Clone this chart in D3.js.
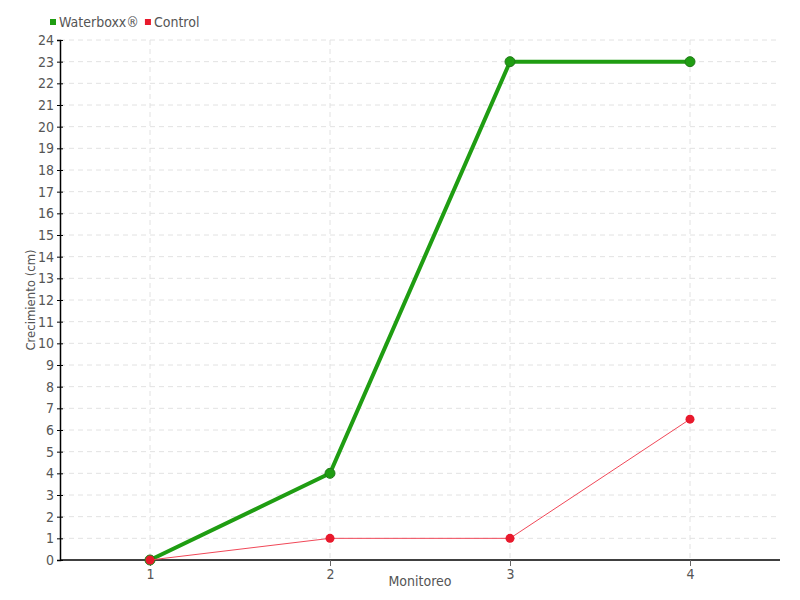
<!DOCTYPE html>
<html>
<head>
<meta charset="utf-8">
<script src="https://cdn.jsdelivr.net/npm/d3@7"></script>
<style>
  body { margin: 0; background: #fff; }
  text { font-family: "DejaVu Sans Condensed", "DejaVu Sans", sans-serif; fill: #555; }
</style>
</head>
<body>
<script>
var width = 800;
var height = 600;
var margin = { top: 40, right: 20, bottom: 40, left: 60 };

var categories = ['1', '2', '3', '4'];
var waterboxx = [0, 4, 23, 23];
var control = [0, 1, 1, 6.5];
var yTicks = d3.range(0, 25);
var seriesNames = ['Waterboxx®', 'Control'];
var seriesColors = ['#1f9d12', '#e8192c'];

var svg = d3.select('body').append('svg')
  .attr('width', width)
  .attr('height', height);

var x = d3.scalePoint()
  .domain(categories)
  .range([margin.left, width - margin.right])
  .padding(0.5);

var y = d3.scaleLinear()
  .domain([0, 24])
  .range([height - margin.bottom, margin.top]);

// grid
svg.append('g').selectAll('line.h')
  .data(yTicks.slice(1))
  .enter().append('line')
  .attr('x1', margin.left)
  .attr('x2', width - margin.right)
  .attr('y1', function (d) { return y(d); })
  .attr('y2', function (d) { return y(d); })
  .attr('stroke', '#e2e2e2')
  .attr('stroke-dasharray', '5,4');

svg.append('g').selectAll('line.v')
  .data(categories)
  .enter().append('line')
  .attr('x1', function (d) { return x(d); })
  .attr('x2', function (d) { return x(d); })
  .attr('y1', margin.top)
  .attr('y2', height - margin.bottom)
  .attr('stroke', '#e2e2e2')
  .attr('stroke-dasharray', '5,4');

// axes
var yAxis = svg.append('g')
  .attr('transform', 'translate(' + margin.left + ',0)')
  .call(d3.axisLeft(y).tickValues(yTicks).tickSize(3).tickPadding(3).tickFormat(d3.format('d')));
yAxis.select('.domain').attr('stroke', '#000').attr('stroke-width', 1.5);
yAxis.selectAll('.tick line').attr('stroke', '#000').attr('x2', 3).attr('x1', -3);
yAxis.selectAll('text').style('font-size', '14px');

var xAxis = svg.append('g')
  .attr('transform', 'translate(0,' + (height - margin.bottom) + ')')
  .call(d3.axisBottom(x).tickSize(6).tickPadding(3));
xAxis.select('.domain').attr('d', 'M' + margin.left + ',0H' + (width - margin.right)).attr('stroke', '#000').attr('stroke-width', 1.5);
xAxis.selectAll('.tick line').attr('stroke', '#666');
xAxis.selectAll('text').style('font-size', '14px');

svg.append('text')
  .attr('x', (margin.left + width - margin.right) / 2)
  .attr('y', 586)
  .attr('text-anchor', 'middle')
  .style('font-size', '14px')
  .text('Monitoreo');

svg.append('text')
  .attr('transform', 'translate(35,' + ((margin.top + height - margin.bottom) / 2) + ') rotate(-90)')
  .attr('text-anchor', 'middle')
  .style('font-size', '13px')
  .text('Crecimiento (cm)');

var line = d3.line()
  .x(function (d, i) { return x(categories[i]); })
  .y(function (d) { return y(d); });

// green series
svg.append('path')
  .datum(waterboxx)
  .attr('fill', 'none')
  .attr('stroke', seriesColors[0])
  .attr('stroke-width', 4)
  .attr('d', line);

svg.append('g').selectAll('circle')
  .data(waterboxx)
  .enter().append('circle')
  .attr('cx', function (d, i) { return x(categories[i]); })
  .attr('cy', function (d) { return y(d); })
  .attr('r', 5)
  .attr('fill', seriesColors[0])
  .attr('stroke', '#207a18')
  .attr('stroke-width', 1);

// red series
svg.append('path')
  .datum(control)
  .attr('fill', 'none')
  .attr('stroke', '#f04858')
  .attr('stroke-width', 1)
  .attr('d', line);

svg.append('g').selectAll('circle')
  .data(control)
  .enter().append('circle')
  .attr('cx', function (d, i) { return x(categories[i]); })
  .attr('cy', function (d) { return y(d); })
  .attr('r', 4.5)
  .attr('fill', seriesColors[1]);

// legend
var legend = svg.append('g').attr('transform', 'translate(50,22)');
var lx = 0;
seriesNames.forEach(function (name, i) {
  legend.append('rect')
    .attr('x', lx)
    .attr('y', -3)
    .attr('width', 6)
    .attr('height', 6)
    .attr('fill', seriesColors[i]);
  var t = legend.append('text')
    .attr('x', lx + 9)
    .attr('y', 5)
    .style('font-size', '14px')
    .text(name);
  lx += 9 + t.node().getComputedTextLength() + 6;
});
</script>
</body>
</html>
